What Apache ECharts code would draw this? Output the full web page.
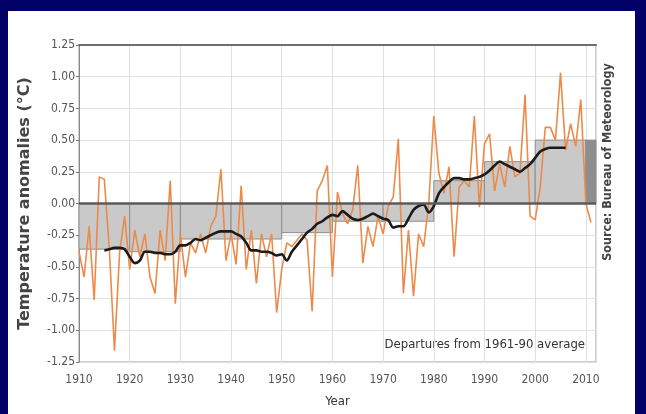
<!DOCTYPE html>
<html>
<head>
<meta charset="utf-8">
<script src="https://cdn.jsdelivr.net/npm/echarts@6/dist/echarts.min.js"></script>
<style>
  html, body { margin: 0; padding: 0; background: #000066; }
  #chart { width: 646px; height: 414px; }
</style>
</head>
<body>
<div id="chart"></div>
<script>
// annual anomalies, 1910..2011
const firstYear = 1910;
const annual = [
  -0.38, -0.58, -0.18, -0.76, 0.21, 0.19, -0.37, -1.16, -0.39, -0.10,
  -0.52, -0.21, -0.42, -0.24, -0.58, -0.71, -0.21, -0.45, 0.18, -0.79,
  -0.24, -0.58, -0.31, -0.39, -0.24, -0.39, -0.18, -0.10, 0.27, -0.45,
  -0.24, -0.48, 0.14, -0.52, -0.21, -0.63, -0.24, -0.42, -0.24, -0.86,
  -0.52, -0.31, -0.34, -0.29, -0.24, -0.29, -0.85, 0.10, 0.18, 0.30,
  -0.58, 0.09, -0.08, -0.16, -0.05, 0.30, -0.47, -0.18, -0.34, -0.10,
  -0.24, -0.02, 0.05, 0.51, -0.71, -0.21, -0.73, -0.24, -0.34, 0.00,
  0.69, 0.24, 0.08, 0.29, -0.42, 0.13, 0.18, 0.13, 0.69, -0.03,
  0.47, 0.55, 0.10, 0.31, 0.13, 0.45, 0.21, 0.24, 0.86, -0.10,
  -0.13, 0.13, 0.60, 0.60, 0.50, 1.03, 0.42, 0.63, 0.45, 0.82,
  0.00, -0.15
];

// 11-year running mean, 1915..2006
const smoothStart = 1915;
const smooth = [
  -0.37, -0.36, -0.35, -0.35, -0.36,
  -0.42, -0.47, -0.45, -0.38, -0.38, -0.39, -0.39, -0.40, -0.40, -0.38,
  -0.33, -0.33, -0.31, -0.28, -0.29, -0.27, -0.25, -0.23, -0.22, -0.22,
  -0.22, -0.24, -0.26, -0.31, -0.37, -0.37, -0.38, -0.38, -0.39, -0.41,
  -0.40, -0.45, -0.38, -0.33, -0.28, -0.23, -0.20, -0.16, -0.14, -0.11,
  -0.09, -0.10, -0.06, -0.09, -0.12, -0.13, -0.12, -0.10, -0.08, -0.10,
  -0.12, -0.13, -0.19, -0.18, -0.18, -0.12, -0.05, -0.02, -0.01, -0.07,
  -0.02, 0.08, 0.13, 0.17, 0.20, 0.20, 0.19, 0.19, 0.20, 0.21,
  0.23, 0.26, 0.30, 0.33, 0.31, 0.29, 0.27, 0.25, 0.28, 0.31,
  0.36, 0.41, 0.43, 0.44, 0.44, 0.44, 0.44
];

// decadal means: [from, to, value]
const decades = [
  [1910, 1920, -0.36], [1920, 1930, -0.38], [1930, 1940, -0.28], [1940, 1950, -0.28],
  [1950, 1960, -0.23], [1960, 1970, -0.14], [1970, 1980, -0.14], [1980, 1990, 0.18],
  [1990, 2000, 0.33], [2000, 2010, 0.50], [2010, 2012, 0.50]
];

const yTicks = [-1.25, -1.00, -0.75, -0.50, -0.25, 0.00, 0.25, 0.50, 0.75, 1.00, 1.25];

const annualData = annual.map((v, i) => [firstYear + i, v]);
const smoothData = smooth.map((v, i) => [smoothStart + i, v]);

const narrow = "'Liberation Sans Narrow', 'DejaVu Sans Condensed', sans-serif";

const chart = echarts.init(document.getElementById('chart'));
chart.setOption({
  animation: false,
  backgroundColor: '#000066',
  grid: { left: 79, right: 50, top: 45, bottom: 52, show: true, borderColor: '#9a9a9a', borderWidth: 1, backgroundColor: 'transparent' },
  graphic: [
    { type: 'rect', z: -10, shape: { x: 8, y: 11, width: 627, height: 403 }, style: { fill: '#ffffff' }, silent: true },
    { type: 'text', x: 585, y: 345, style: { text: 'Departures from 1961-90 average', font: '13px ' + narrow, fill: '#333', align: 'right', verticalAlign: 'middle' } },
    { type: 'text', x: 608, y: 162, rotation: Math.PI / 2, style: { text: 'Source: Bureau of Meteorology', font: 'bold 12.5px ' + narrow, fill: '#444', align: 'center', verticalAlign: 'middle' } }
  ],
  xAxis: [{
    type: 'value', min: 1910, max: 2012, interval: 10,
    name: 'Year', nameLocation: 'middle', nameGap: 33,
    nameTextStyle: { fontFamily: narrow, fontSize: 13, color: '#333' },
    axisLine: { show: true, lineStyle: { color: '#8a8a8a', width: 1 } },
    axisTick: { show: false },
    axisLabel: { margin: 12, fontFamily: narrow, fontSize: 12, color: '#555',
      formatter: v => (v % 10 === 0 ? String(v) : '') },
    splitLine: { show: true, lineStyle: { color: '#e0e0e0', width: 1 } }
  }, {
    type: 'value', position: 'top', min: 1910, max: 2012,
    axisLine: { show: true, lineStyle: { color: '#6e6e6e', width: 2 } },
    axisTick: { show: false }, axisLabel: { show: false }, splitLine: { show: false }
  }],
  yAxis: {
    type: 'value', min: -1.25, max: 1.25, interval: 0.25,
    name: 'Temperature anomalies (°C)', nameLocation: 'middle', nameGap: 46,
    nameTextStyle: { fontFamily: 'DejaVu Sans', fontWeight: 'bold', fontSize: 16, color: '#444' },
    axisLine: { show: true, lineStyle: { color: '#8a8a8a', width: 1 } },
    axisTick: { show: true, length: 3, lineStyle: { color: '#777' } },
    axisLabel: { margin: 4, fontFamily: narrow, fontSize: 12, color: '#555',
      formatter: v => yTicks.find(t => Math.abs(t - v) < 1e-6).toFixed(2) },
    splitLine: { show: true, lineStyle: { color: '#e0e0e0', width: 1 } }
  },
  series: [
    {
      type: 'custom', name: 'decades', z: 1,
      data: decades,
      encode: { x: [0, 1], y: 2 },
      renderItem: (params, api) => {
        const a = api.coord([api.value(0), api.value(2)]);
        const b = api.coord([api.value(1), 0]);
        const last = params.dataIndex === decades.length - 1;
        return {
          type: 'rect',
          shape: { x: a[0], y: Math.min(a[1], b[1]), width: b[0] - a[0], height: Math.abs(b[1] - a[1]) },
          style: { fill: last ? '#8e8e8e' : '#c9c9c9', stroke: '#8e8e8e', lineWidth: 1 }
        };
      }
    },
    {
      type: 'line', name: 'annual', z: 3,
      data: annualData, showSymbol: false,
      lineStyle: { color: '#ec8a4a', width: 1.6 },
      markLine: {
        silent: true, symbol: 'none', label: { show: false },
        lineStyle: { color: '#5a5a5a', width: 2.5, type: 'solid' },
        data: [{ yAxis: 0 }]
      }
    },
    {
      type: 'line', name: 'smooth', z: 4,
      data: smoothData, showSymbol: false, smooth: 0.3,
      lineStyle: { color: '#1b1b1b', width: 2.6 }
    }
  ]
});
</script>
</body>
</html>
